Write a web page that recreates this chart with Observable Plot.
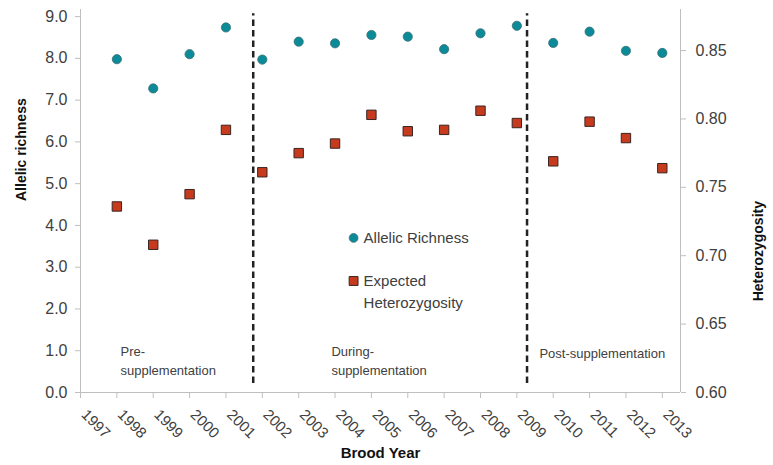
<!DOCTYPE html>
<html><head><meta charset="utf-8">
<script src="https://cdn.jsdelivr.net/npm/d3@7"></script>
<script src="https://cdn.jsdelivr.net/npm/@observablehq/plot@0.6"></script>
<style>html,body{margin:0;padding:0;background:#fff}svg{display:block}</style>
</head><body><div id="chart"></div>
<script>
// ---- data ----
const years = [1998,1999,2000,2001,2002,2003,2004,2005,2006,2007,2008,2009,2010,2011,2012,2013];
const allelicRichness = [7.98,7.28,8.10,8.74,7.97,8.40,8.36,8.56,8.52,8.22,8.60,8.78,8.37,8.64,8.18,8.13];
const heterozygosity = [0.736,0.708,0.745,0.792,0.761,0.775,0.782,0.803,0.791,0.792,0.806,0.797,0.769,0.798,0.786,0.764];
const xTickYears = [1997,1998,1999,2000,2001,2002,2003,2004,2005,2006,2007,2008,2009,2010,2011,2012,2013];
const leftTicks = [0,1,2,3,4,5,6,7,8,9];
const rightTicks = [0.60,0.65,0.70,0.75,0.80,0.85];
const periodBreaks = [2001.75, 2009.28];
const periodNames = ["Pre-\nsupplementation", "During-\nsupplementation", "Post-supplementation"];
const legendNames = ["Allelic Richness", "Expected", "Heterozygosity"];

const leftDomain = [0, 9.17];
const rightDomain = [0.60, 0.88];
const toLeft = h => (h - rightDomain[0]) / (rightDomain[1] - rightDomain[0]) * (leftDomain[1] - leftDomain[0]) + leftDomain[0];
const fromLeft = v => (v - leftDomain[0]) / (leftDomain[1] - leftDomain[0]) * (rightDomain[1] - rightDomain[0]) + rightDomain[0];

const rows = years.map((y, i) => ({year: y, ar: allelicRichness[i], he: heterozygosity[i]}));

const teal = "#0b8a98", tealStroke = "#3a6e76";
const red = "#c63b1d", redStroke = "#3a2420";
const axisGray = "#bfbfbf", textGray = "#404040";

const periods = [
  {x: 1998.10, y: 0.80, t: periodNames[0]},
  {x: 2003.90, y: 0.80, t: periodNames[1]},
  {x: 2009.62, y: 0.96, t: periodNames[2]}
];

const chart = Plot.plot({
  width: 773, height: 465,
  marginLeft: 80, marginRight: 93, marginTop: 9, marginBottom: 73,
  style: {fontFamily: "'Liberation Sans', Arial, sans-serif", background: "#fff"},
  x: {domain: [1997, 2013.5], axis: null},
  y: {domain: leftDomain, axis: null},
  marks: [
    Plot.ruleX([1997, 2013.5], {stroke: axisGray, strokeWidth: 1}),
    Plot.ruleY([0], {stroke: axisGray, strokeWidth: 1}),
    Plot.axisY({ticks: leftTicks, tickFormat: d => d.toFixed(1), tickSize: 5, tickPadding: 8,
      fontSize: 16, stroke: axisGray, fill: textGray, label: null}),
    Plot.axisY({anchor: "right", ticks: rightTicks.map(toLeft), tickFormat: d => fromLeft(d).toFixed(2),
      tickSize: 5, tickPadding: 10, fontSize: 16, stroke: axisGray, fill: textGray, label: null}),
    Plot.axisX({ticks: xTickYears, tickSize: 6, tickFormat: () => "", stroke: axisGray, label: null}),
    Plot.text(xTickYears, {x: d => d, frameAnchor: "bottom", dy: 23, dx: 0, rotate: 45,
      textAnchor: "start", text: d => String(d), fontSize: 15, fill: textGray}),
    Plot.ruleX(periodBreaks, {x: d => d, y1: () => 0.215, y2: () => 9.07, stroke: "#222",
      strokeWidth: 2.5, strokeDasharray: "6.5,4"}),
    Plot.dot(rows, {x: "year", y: d => toLeft(d.he), symbol: "square", r: 5.3,
      fill: red, stroke: redStroke, strokeWidth: 1}),
    Plot.dot(rows, {x: "year", y: "ar", r: 4.6, fill: teal, stroke: tealStroke, strokeWidth: 0.8}),
    // period annotations
    Plot.text(periods, {x: "x", y: "y", text: "t", textAnchor: "start", lineAnchor: "middle",
      lineHeight: 1.46, fontSize: 13, fill: textGray}),
    // legend
    Plot.dot([0], {x: () => 2004.51, y: () => 3.70, r: 4.4, fill: teal, stroke: tealStroke, strokeWidth: 0.8}),
    Plot.dot([0], {x: () => 2004.51, y: () => 2.67, symbol: "square", r: 5.0, fill: red, stroke: redStroke, strokeWidth: 1}),
    Plot.text([legendNames[0]], {x: () => 2004.51, y: () => 3.70, dx: 10, text: d => d, textAnchor: "start", fontSize: 15, fill: textGray}),
    Plot.text([legendNames[1]], {x: () => 2004.51, y: () => 2.67, dx: 10, text: d => d, textAnchor: "start", fontSize: 15, fill: textGray}),
    Plot.text([legendNames[2]], {x: () => 2004.51, y: () => 2.15, dx: 10, text: d => d, textAnchor: "start", fontSize: 15, fill: textGray}),
    // axis titles
    Plot.text(["Allelic richness"], {frameAnchor: "left", dx: -59, rotate: -90, text: d => d,
      fontSize: 14, fontWeight: "bold", fill: "#111"}),
    Plot.text(["Heterozygosity"], {frameAnchor: "right", dx: 78, rotate: -90, text: d => d,
      fontSize: 14, fontWeight: "bold", fill: "#111"}),
    Plot.text(["Brood Year"], {frameAnchor: "bottom", dy: 65, text: d => d,
      fontSize: 15, fontWeight: "bold", fill: "#111"})
  ]
});
document.getElementById("chart").appendChild(chart);
</script>
</body></html>
